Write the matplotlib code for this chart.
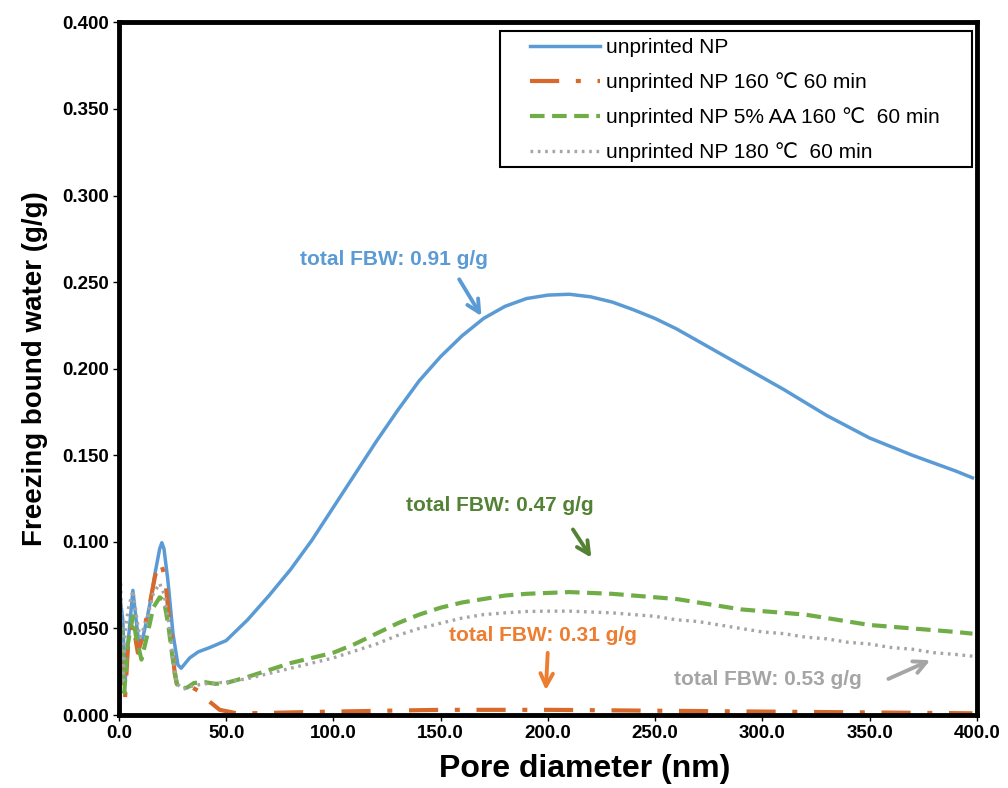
import matplotlib
matplotlib.use("Agg")
import matplotlib.pyplot as plt
from matplotlib.patches import Rectangle

plt.rcParams['font.family'] = ['Liberation Sans', 'DejaVu Sans']

# unprinted NP
x_blue = [0.8, 1.8, 2.8, 4.5, 6.5, 8.0, 9.5, 11.0, 13.0, 15.0, 17.0, 19.0, 20.0, 21.0, 22.8, 25.2, 27.5, 29.0,
          33.0, 37.0, 42.4, 50, 60, 70, 80, 90, 100, 110, 120, 130, 140, 150, 160, 170, 180, 190, 200,
          210, 220, 230, 240, 250, 260, 270, 280, 290, 300, 310, 320, 330, 340, 350, 360, 370, 380, 390, 398]
y_blue = [0.065, 0.055, 0.018, 0.045, 0.072, 0.055, 0.039, 0.044, 0.055, 0.068, 0.083, 0.096, 0.0995, 0.096, 0.078,
          0.047, 0.029, 0.027, 0.033, 0.0365, 0.039, 0.043, 0.055, 0.069, 0.084, 0.101, 0.120, 0.139, 0.158,
          0.176, 0.193, 0.207, 0.219, 0.229, 0.236, 0.2405, 0.2425, 0.243, 0.2415, 0.2385, 0.234, 0.229,
          0.223, 0.216, 0.209, 0.202, 0.195, 0.188, 0.1805, 0.173, 0.1665, 0.160, 0.155, 0.150, 0.1455,
          0.141, 0.137]

# unprinted NP 160 C 60 min
x_orange = [0.8, 1.8, 2.8, 4.2, 6.5, 8.8, 11.0, 13.0, 14.5, 16.8, 18.6, 20.0, 21.4, 23.3, 24.5, 26.0, 27.0,
            30.0, 34.0, 37.0, 41.0, 47.0, 55, 60, 80, 100, 150, 200, 250, 300, 350, 398]
y_orange = [0.034, 0.020, 0.009, 0.039, 0.053, 0.036, 0.045, 0.057, 0.065, 0.080, 0.088, 0.086, 0.080, 0.057,
            0.045, 0.024, 0.018, 0.018, 0.016, 0.014, 0.009, 0.003, 0.001, 0.001, 0.0015, 0.002, 0.003,
            0.003, 0.0025, 0.002, 0.0015, 0.001]

# unprinted NP 5% AA 160 C 60 min
x_green = [0.8, 1.8, 2.5, 4.0, 6.5, 8.0, 10.5, 13.0, 16.0, 19.0, 21.0, 23.0, 25.0, 27.0, 29.0, 32.0, 35.0,
           40.0, 45.0, 50, 60, 70, 80, 90, 100, 110, 120, 130, 140, 150, 160, 170, 180, 190, 200, 210,
           220, 230, 240, 250, 260, 270, 280, 290, 300, 310, 320, 330, 340, 350, 360, 370, 380, 390, 398]
y_green = [0.052, 0.030, 0.013, 0.040, 0.057, 0.045, 0.032, 0.045, 0.062, 0.068, 0.066, 0.052, 0.033, 0.018,
           0.015, 0.016, 0.0185, 0.019, 0.018, 0.0185, 0.022, 0.026, 0.030, 0.033, 0.036, 0.041, 0.047,
           0.053, 0.058, 0.062, 0.065, 0.067, 0.069, 0.070, 0.0705, 0.071, 0.0705, 0.070, 0.069, 0.068,
           0.067, 0.065, 0.063, 0.061, 0.060, 0.059, 0.058, 0.056, 0.054, 0.052, 0.051, 0.050, 0.049,
           0.048, 0.047]

# unprinted NP 180 C 60 min
x_gray = [0.8, 2.0, 3.0, 4.5, 6.5, 9.0, 10.0, 13.0, 16.0, 19.0, 21.0, 23.0, 25.0, 27.0, 30.0, 35.0, 40.0,
          50, 60, 70, 80, 90, 100, 110, 120, 130, 140, 150, 160, 170, 180, 190, 200, 210, 220, 230,
          240, 250, 260, 270, 280, 290, 300, 310, 320, 330, 340, 350, 360, 370, 380, 390, 398]
y_gray = [0.076, 0.020, 0.050, 0.062, 0.072, 0.050, 0.045, 0.055, 0.070, 0.076, 0.070, 0.055, 0.035, 0.018,
          0.015, 0.017, 0.018, 0.019, 0.021, 0.024, 0.027, 0.030, 0.033, 0.037, 0.041, 0.046, 0.050,
          0.053, 0.056, 0.058, 0.059, 0.0598, 0.060, 0.060, 0.0595, 0.059, 0.058, 0.057, 0.055, 0.054,
          0.052, 0.050, 0.048, 0.047, 0.045, 0.044, 0.042, 0.041, 0.039, 0.038, 0.036, 0.035, 0.034]

labels = ["unprinted NP", "unprinted NP 160 \u2103 60 min",
          "unprinted NP 5% AA 160 \u2103  60 min", "unprinted NP 180 \u2103  60 min"]

fig = plt.figure(figsize=(10.08, 7.88), dpi=100)
ax = fig.add_axes([0.118, 0.0926, 0.851, 0.879])

ax.plot(x_blue, y_blue, color="#5B9BD5", lw=2.5, label=labels[0])
ax.plot(x_orange, y_orange, color="#D8692A", lw=3, dashes=(7, 4, 1.2, 4), label=labels[1])
ax.plot(x_green, y_green, color="#70AD47", lw=3, dashes=(3.5, 1.8), label=labels[2])
ax.plot(x_gray, y_gray, color="#A5A5A5", lw=2.4, dashes=(0.8, 1.4), label=labels[3])

ax.set_xlim(0, 400)
ax.set_ylim(0, 0.4)
ax.set_xticks(range(0, 401, 50))
ax.set_xticklabels(["%.1f" % v for v in range(0, 401, 50)])
ax.set_yticks([i * 0.05 for i in range(9)])
ax.set_yticklabels(["%.3f" % (i * 0.05) for i in range(9)])
ax.tick_params(direction="out", length=4, width=1, labelsize=13.5)
for t in ax.get_xticklabels() + ax.get_yticklabels():
    t.set_fontweight("bold")
for s in ax.spines.values():
    s.set_linewidth(3.5)

ax.set_xlabel("Pore diameter (nm)", fontsize=23, fontweight="bold")
ax.xaxis.set_label_coords(0.543, -0.056)
ax.set_ylabel("Freezing bound water (g/g)", fontsize=20, fontweight="bold", labelpad=10)

# legend box drawn separately, like the Excel frame
ax.add_patch(Rectangle((0.444, 0.791), 0.550, 0.197, transform=ax.transAxes, fill=False,
                       edgecolor="black", lw=1.5, zorder=5))
leg = ax.legend(loc="upper left", bbox_to_anchor=(0.467, 0.992), fontsize=15, handlelength=3.36,
                labelspacing=0.72, frameon=False, borderpad=0, handletextpad=0.3)

# annotations
ann = [("total FBW: 0.91 g/g", (128, 0.263), (158, 0.253), (169.7, 0.229), "#5B9BD5"),
       ("total FBW: 0.47 g/g", (177.6, 0.121), (211, 0.1085), (221, 0.0895), "#548235"),
       ("total FBW: 0.31 g/g", (197.7, 0.046), (200, 0.0375), (199, 0.0127), "#ED7D31"),
       ("total FBW: 0.53 g/g", (302.6, 0.0208), (357.6, 0.0202), (379.5, 0.0323), "#A5A5A5")]
for txt, tpos, tail, head, c in ann:
    ax.text(tpos[0], tpos[1], txt, color=c, fontsize=15, fontweight="bold", ha="center", va="center")
    ax.annotate("", xy=head, xytext=tail,
                arrowprops=dict(arrowstyle="->,head_length=0.9,head_width=0.45", color=c, lw=2.8))

fig.savefig("out.png", dpi=100)
